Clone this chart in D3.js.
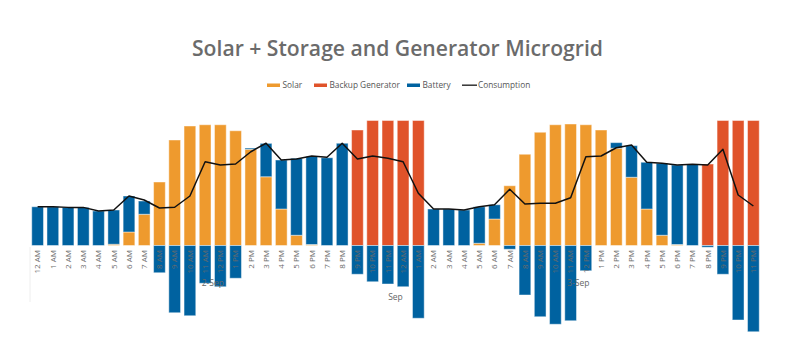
<!DOCTYPE html>
<html><head><meta charset="utf-8">
<script src="https://cdn.jsdelivr.net/npm/d3@7"></script>
<style>
html,body{margin:0;padding:0;background:#fff;}
svg{display:block;}
</style></head>
<body><svg id="chart" width="792" height="360"></svg>
<script>
const hours = ["12 AM","1 AM","2 AM","3 AM","4 AM","5 AM","6 AM","7 AM","8 AM","9 AM","10 AM","11 AM",
  "12 PM","1 PM","2 PM","3 PM","4 PM","5 PM","6 PM","7 PM","8 PM","9 PM","10 PM","11 PM",
  "12 AM","1 AM","2 AM","3 AM","4 AM","5 AM","6 AM","7 AM","8 AM","9 AM","10 AM","11 AM",
  "12 PM","1 PM","2 PM","3 PM","4 PM","5 PM","6 PM","7 PM","8 PM","9 PM","10 PM","11 PM"];
const dayLabels = ["2-Sep","Sep","3-Sep"];
const solar = [0,0,0,0,0,1,10.8,25,50.8,84.4,95.6,96.6,96.6,91.8,77,55,29.2,8.2,0.8,0,0,0,0,0,
  0,0,0,0,0,1.8,21.2,47.8,73,90.6,96.6,97.2,96.6,92.4,77.8,54.6,29.2,8.2,0.8,0,0,0,0,0];
const generator = [0,0,0,0,0,0,0,0,0,0,0,0,0,0,0,0,0,0,0,0,0,92.4,100,100,
  100,100,0,0,0,0,0,0,0,0,0,0,0,0,0,0,0,0,0,0,65.2,100,100,100];
const battery = [31,31,30.5,30.5,27.6,27.4,28.8,10.6,-21.8,-53.8,-56.2,-30.2,-33,-26.2,1,26.7,39.2,61.6,70.4,70.2,81.8,-23,-29,-30.8,
  -33,-58.2,29.2,29.2,28.4,29.2,11.4,-3,-39.6,-57,-63,-60.2,-20.2,0,4.5,25.3,37.4,57.6,63.6,65,-1.4,-23,-59.6,-69];
const consumption = [31,31,30.5,30.5,27.6,28.4,39.6,36.4,30,30.6,39.6,67,64.4,65.2,75,81.8,68.4,69.2,71.6,70.6,81.8,69.2,71.6,69.8,
  67,41.8,29.2,29.2,28.4,31,32.6,45,33.2,33.8,33.8,38.2,71,71.6,78.2,80.4,66.6,65.8,64.4,65,64.4,77,40.4,31.6];
const seriesNames = ["Solar","Backup Generator","Battery"];
const seriesColors = ["#EE9A2E","#E0532A","#0062A0"];
const lineName = "Consumption";

const svg = d3.select("#chart");
const idx = d3.range(hours.length);
const x = d3.scaleBand().domain(idx).range([30, 761]).paddingInner(0.23).paddingOuter(0.115);
const y = d3.scaleLinear().domain([-72, 100]).range([335.5, 120.5]);

const rows = idx.map(i => ({i, Solar: solar[i], "Backup Generator": generator[i], Battery: battery[i]}));
const stack = d3.stack().keys(seriesNames).offset(d3.stackOffsetDiverging);
const stacked = stack(rows);

// title
svg.append("text").attr("x", 397.5).attr("y", 56).attr("text-anchor","middle")
  .attr("font-family","'Open Sans', sans-serif").attr("font-weight",600).attr("font-size",22)
  .attr("fill","#6b6b6b").attr("textLength",411).attr("lengthAdjust","spacingAndGlyphs")
  .text("Solar + Storage and Generator Microgrid");

// faint category divider
svg.append("line").attr("x1",30).attr("x2",30).attr("y1",247).attr("y2",302)
  .attr("stroke","#eeeeee").attr("stroke-width",1);

// bars
const g = svg.append("g");
stacked.forEach((s, k) => {
  g.append("g").attr("fill", seriesColors[k])
    .selectAll("rect").data(s.filter(d => d[1] !== d[0])).join("rect")
    .attr("x", d => x(d.data.i))
    .attr("width", x.bandwidth())
    .attr("y", d => y(Math.max(d[0], d[1])))
    .attr("height", d => Math.abs(y(d[0]) - y(d[1])))
    .attr("stroke","rgba(255,255,255,0.45)").attr("stroke-width",1);
});

// axis
const axis = d3.axisBottom(x).tickSize(0).tickFormat(i => hours[i]);
const ax = svg.append("g").attr("transform", `translate(0,${y(0)})`).call(axis);
ax.select(".domain").remove();
ax.selectAll("text")
  .attr("font-family","'Open Sans', sans-serif").attr("font-size",8).attr("fill","#6a6a6a")
  .attr("transform","rotate(-90)").attr("text-anchor","end")
  .attr("x",-4.5).attr("y",0).attr("dy","0.35em");

// day labels
const dayPos = [
  [(x(0) + x(23) + x.bandwidth())/2, 286],
  [(x(23) + x(24) + x.bandwidth())/2, 300],
  [(x(24) + x(47) + x.bandwidth())/2, 286]
];
svg.append("g").selectAll("text").data(dayLabels).join("text")
  .attr("x",(d,i)=>dayPos[i][0]).attr("y",(d,i)=>dayPos[i][1]).attr("text-anchor","middle")
  .attr("font-family","'Open Sans', sans-serif").attr("font-size",8.5).attr("fill","#666")
  .text(d=>d);

// consumption line
const line = d3.line().x((d,i)=>x(i)+x.bandwidth()/2).y(d=>y(d));
svg.append("path").datum(consumption).attr("d",line).attr("fill","none")
  .attr("stroke","#111").attr("stroke-width",1.5).attr("stroke-linejoin","round");

// legend
const leg = svg.append("g").attr("font-family","'Open Sans', sans-serif").attr("font-size",8.3).attr("fill","#555");
const legX = [267, 314, 407];
seriesNames.forEach((n,k)=>{
  leg.append("rect").attr("x",legX[k]).attr("y",83.5).attr("width",13).attr("height",3.5).attr("fill",seriesColors[k]);
  leg.append("text").attr("x",legX[k]+15.5).attr("y",88).text(n);
});
leg.append("line").attr("x1",462).attr("x2",477).attr("y1",85.2).attr("y2",85.2).attr("stroke","#333").attr("stroke-width",1.5);
leg.append("text").attr("x",478).attr("y",88).text(lineName);
</script>
</body></html>
